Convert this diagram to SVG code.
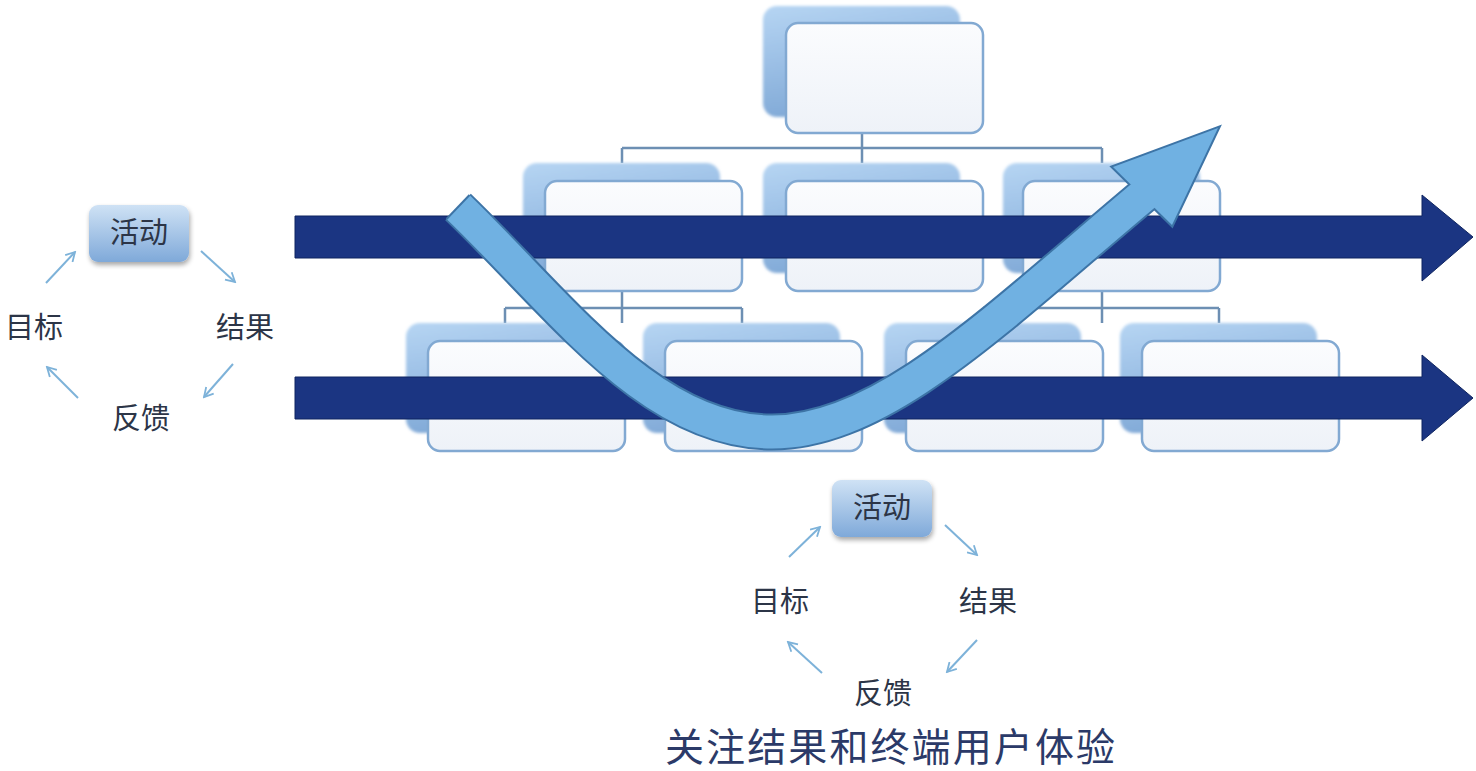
<svg xmlns="http://www.w3.org/2000/svg" width="1476" height="771" viewBox="0 0 1476 771">
<defs>
<linearGradient id="backG" x1="0" y1="0" x2="0.3" y2="1">
<stop offset="0" stop-color="#b6d5f3"/>
<stop offset="1" stop-color="#7fa8d6"/>
</linearGradient>
<linearGradient id="frontG" x1="0" y1="0" x2="0" y2="1">
<stop offset="0" stop-color="#fbfcfe"/>
<stop offset="1" stop-color="#eef2f8"/>
</linearGradient>
<linearGradient id="pillG" x1="0" y1="0" x2="0" y2="1">
<stop offset="0" stop-color="#cfe2f5"/>
<stop offset="1" stop-color="#7fa9d9"/>
</linearGradient>
<filter id="soft" x="-10%" y="-10%" width="120%" height="120%">
<feGaussianBlur stdDeviation="1.8"/>
</filter>
<filter id="shadow" x="-20%" y="-20%" width="140%" height="150%">
<feGaussianBlur in="SourceAlpha" stdDeviation="2.5"/>
<feOffset dx="1" dy="3" result="b"/>
<feComponentTransfer><feFuncA type="linear" slope="0.35"/></feComponentTransfer>
<feMerge><feMergeNode/><feMergeNode in="SourceGraphic"/></feMerge>
</filter>
<marker id="chev" viewBox="0 0 12 12" refX="10" refY="6" markerWidth="12" markerHeight="12" markerUnits="userSpaceOnUse" orient="auto">
<path d="M1,1 L10,6 L1,11" fill="none" stroke="#7db2d9" stroke-width="1.8"/>
</marker>
</defs>
<style>
.back{fill:url(#backG);filter:url(#soft);}
.front{fill:url(#frontG);stroke:#82a9d2;stroke-width:2.5;}
.conn{fill:none;stroke:#6d8fb3;stroke-width:2.5;}
.bar{fill:#1b3582;stroke:#0f2560;stroke-width:1;}
.cyc{font-family:"Noto Sans CJK SC","Noto Sans",sans-serif;font-size:29px;fill:#2c3547;text-anchor:middle;}
.pill{fill:url(#pillG);filter:url(#shadow);}
.carr{fill:none;stroke:#7db2d9;stroke-width:2;marker-end:url(#chev);}
</style>
<rect width="1476" height="771" fill="#ffffff"/>
<g id="connectors">
<path class="conn" d="M862,133 V163 M622,148 H1102 M622,148 V163 M1102,148 V163"/>
<path class="conn" d="M622,291 V323 M505,308 H742 M505,308 V323 M742,308 V323"/>
<path class="conn" d="M1102,291 V323 M983,308 H1219 M983,308 V323 M1219,308 V323"/>
</g>
<g id="node-top"><rect class="back" x="763" y="6" width="197" height="111" rx="14"/><rect class="front" x="786" y="23" width="197" height="110" rx="12"/></g>
<g id="node-r2-1"><rect class="back" x="523" y="163" width="197" height="110" rx="14"/><rect class="front" x="545" y="181" width="197" height="110" rx="12"/></g>
<g id="node-r2-2"><rect class="back" x="763" y="163" width="197" height="110" rx="14"/><rect class="front" x="786" y="181" width="197" height="110" rx="12"/></g>
<g id="node-r2-3"><rect class="back" x="1003" y="163" width="197" height="110" rx="14"/><rect class="front" x="1023" y="181" width="197" height="110" rx="12"/></g>
<g id="node-r3-1"><rect class="back" x="406" y="323" width="197" height="110" rx="14"/><rect class="front" x="428" y="341" width="197" height="110" rx="12"/></g>
<g id="node-r3-2"><rect class="back" x="643" y="323" width="197" height="110" rx="14"/><rect class="front" x="665" y="341" width="197" height="110" rx="12"/></g>
<g id="node-r3-3"><rect class="back" x="884" y="323" width="197" height="110" rx="14"/><rect class="front" x="906" y="341" width="197" height="110" rx="12"/></g>
<g id="node-r3-4"><rect class="back" x="1120" y="323" width="197" height="110" rx="14"/><rect class="front" x="1142" y="341" width="197" height="110" rx="12"/></g>
<g id="bar-top"><path class="bar" d="M295,216 H1422 V195 L1473,237 L1422,281 V258 H295 Z"/></g>
<g id="bar-bottom"><path class="bar" d="M295,377 H1422 V355 L1473,398 L1422,441 V419 H295 Z"/></g>
<g id="curve-arrow">
<polygon points="1218,128 1113,167 1172,225" fill="none" stroke="#3d74a6" stroke-width="4" stroke-linejoin="miter"/>
<path d="M458,207 C560,305 650,432 772,432 C885,432 1000,315 1150,190" fill="none" stroke="#3d74a6" stroke-width="37" stroke-linecap="butt"/>
<path d="M458,207 C560,305 650,432 772,432 C885,432 1000,315 1150,190" fill="none" stroke="#70b1e2" stroke-width="33" stroke-linecap="butt"/>
<path d="M446.5,219 L469.5,195" stroke="#3d74a6" stroke-width="2"/>
<polygon points="1218,128 1113,167 1172,225" fill="#70b1e2"/>
</g>
<g id="cycle-left">
<rect class="pill" x="89" y="205" width="100" height="57" rx="9"/>
<text class="cyc" x="139" y="243">活动</text>
<text class="cyc" x="34" y="338">目标</text>
<text class="cyc" x="245" y="338">结果</text>
<text class="cyc" x="141" y="429">反馈</text>
<path class="carr" d="M46,283 L75,252"/>
<path class="carr" d="M201,251 L235,282"/>
<path class="carr" d="M233,364 L204,397"/>
<path class="carr" d="M78,398 L47,367"/>
</g>
<g id="cycle-bottom">
<rect class="pill" x="832" y="480" width="100" height="57" rx="9"/>
<text class="cyc" x="882" y="518">活动</text>
<text class="cyc" x="780" y="612">目标</text>
<text class="cyc" x="988" y="612">结果</text>
<text class="cyc" x="883" y="704">反馈</text>
<path class="carr" d="M789,557 L820,527"/>
<path class="carr" d="M945,525 L977,555"/>
<path class="carr" d="M977,640 L947,672"/>
<path class="carr" d="M822,673 L788,642"/>
</g>
<g id="title">
<text x="665" y="761" font-family="Noto Sans CJK SC, Noto Sans, sans-serif" font-size="39" fill="#2b3a68" textLength="450" lengthAdjust="spacing">关注结果和终端用户体验</text>
</g>
</svg>
